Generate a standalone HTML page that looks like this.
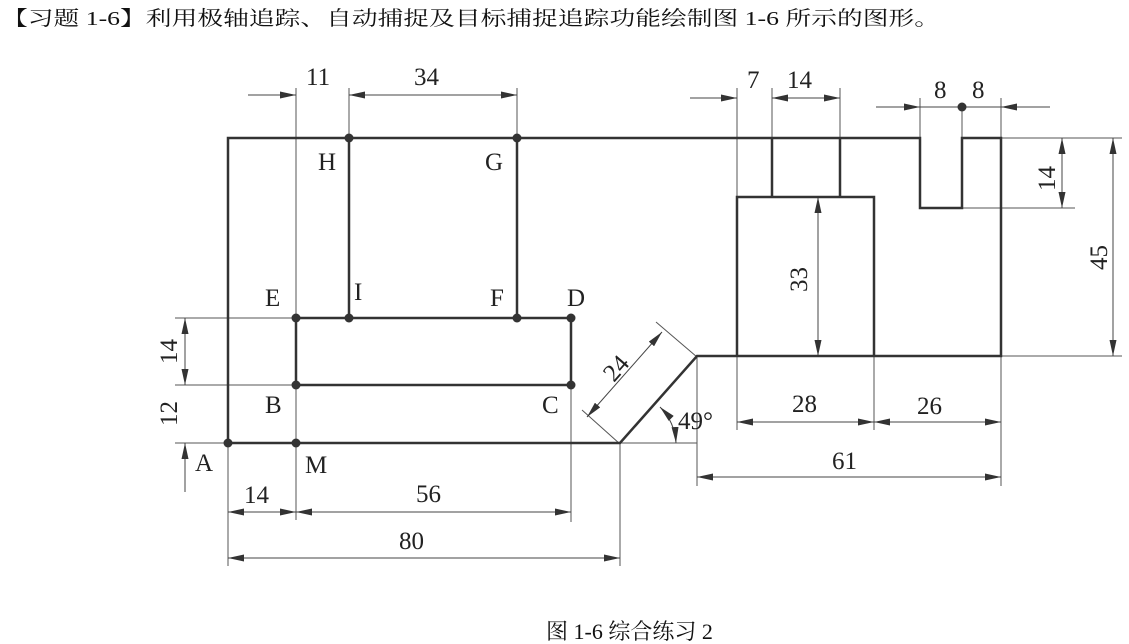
<!DOCTYPE html>
<html><head><meta charset="utf-8"><style>
html,body{margin:0;padding:0;background:#fff;width:1129px;height:644px;overflow:hidden}
svg{display:block}
text{font-family:"Liberation Serif","Noto Serif CJK SC",serif;fill:#222}
.t{font-family:"Liberation Serif","Noto Serif CJK SC","Noto Sans CJK SC",serif;fill:#111}
</style></head><body>
<svg width="1129" height="644" viewBox="0 0 1129 644" xmlns="http://www.w3.org/2000/svg">
<defs>
<marker id="a" viewBox="0 0 16 7" refX="16" refY="3.5" markerWidth="16" markerHeight="7" markerUnits="userSpaceOnUse" orient="auto-start-reverse"><path d="M0,0 L16,3.5 L0,7 z" fill="#333"/></marker>
</defs>
<text class="t" x="2" y="25" font-size="20" textLength="938" lengthAdjust="spacingAndGlyphs">【习题 1-6】利用极轴追踪、自动捕捉及目标捕捉追踪功能绘制图 1-6 所示的图形。</text>

<g stroke="#555" stroke-width="1" fill="none">
<line x1="296" y1="88" x2="296" y2="520"/>
<line x1="349" y1="88" x2="349" y2="138"/>
<line x1="517" y1="88" x2="517" y2="138"/>
<line x1="571" y1="385" x2="571" y2="522"/>
<line x1="228" y1="443" x2="228" y2="566"/>
<line x1="620" y1="443" x2="620" y2="566"/>
<line x1="175" y1="318" x2="296" y2="318"/>
<line x1="175" y1="385" x2="296" y2="385"/>
<line x1="175" y1="443" x2="228" y2="443"/>
<line x1="185" y1="445" x2="185" y2="492"/>
<line x1="620" y1="443" x2="697" y2="443"/>
<line x1="697" y1="356" x2="697" y2="486"/>
<line x1="737" y1="88" x2="737" y2="430"/>
<line x1="772" y1="88" x2="772" y2="138"/>
<line x1="840" y1="88" x2="840" y2="138"/>
<line x1="874" y1="356" x2="874" y2="430"/>
<line x1="1001" y1="356" x2="1001" y2="486"/>
<line x1="920" y1="98" x2="920" y2="138"/>
<line x1="962" y1="107" x2="962" y2="138"/>
<line x1="1001" y1="98" x2="1001" y2="138"/>
<line x1="962" y1="208" x2="1075" y2="208"/>
<line x1="1001" y1="138" x2="1122" y2="138"/>
<line x1="1001" y1="356" x2="1122" y2="356"/>
<line x1="620" y1="444" x2="582" y2="410"/>
<line x1="697" y1="357" x2="656" y2="322"/>
</g>
<g stroke="#444" stroke-width="1" fill="none">
<line x1="248" y1="95" x2="296" y2="95" marker-end="url(#a)"/>
<line x1="349" y1="95" x2="517" y2="95" marker-start="url(#a)" marker-end="url(#a)"/>
<line x1="185" y1="318" x2="185" y2="385" marker-start="url(#a)" marker-end="url(#a)"/>
<line x1="185" y1="492" x2="185" y2="443" marker-end="url(#a)"/>
<line x1="228" y1="512" x2="296" y2="512" marker-start="url(#a)" marker-end="url(#a)"/>
<line x1="296" y1="512" x2="571" y2="512" marker-start="url(#a)" marker-end="url(#a)"/>
<line x1="228" y1="558" x2="620" y2="558" marker-start="url(#a)" marker-end="url(#a)"/>
<line x1="587" y1="417" x2="662" y2="332" marker-start="url(#a)" marker-end="url(#a)"/>
<path d="M660,407 A56,56 0 0 1 676,443" marker-start="url(#a)" marker-end="url(#a)"/>
<line x1="697" y1="477" x2="1001" y2="477" marker-start="url(#a)" marker-end="url(#a)"/>
<line x1="737" y1="422" x2="874" y2="422" marker-start="url(#a)" marker-end="url(#a)"/>
<line x1="874" y1="422" x2="1001" y2="422" marker-start="url(#a)" marker-end="url(#a)"/>
<line x1="818" y1="197" x2="818" y2="356" marker-start="url(#a)" marker-end="url(#a)"/>
<line x1="690" y1="98" x2="737" y2="98" marker-end="url(#a)"/>
<line x1="772" y1="98" x2="840" y2="98" marker-start="url(#a)" marker-end="url(#a)"/>
<line x1="876" y1="107" x2="920" y2="107" marker-end="url(#a)"/>
<line x1="920" y1="107" x2="1001" y2="107"/>
<line x1="1050" y1="107" x2="1001" y2="107" marker-end="url(#a)"/>
<line x1="1062" y1="138" x2="1062" y2="208" marker-start="url(#a)" marker-end="url(#a)"/>
<line x1="1113" y1="138" x2="1113" y2="356" marker-start="url(#a)" marker-end="url(#a)"/>
</g>
<g stroke="#333" stroke-width="2.5" fill="none" stroke-linejoin="miter">
<path d="M228,443 L620,443 L697,356 L1001,356 L1001,138 L962,138 L962,208 L920,208 L920,138 L228,138 Z"/>
<path d="M349,138 L349,318 M517,138 L517,318"/>
<path d="M296,318 L571,318 L571,385 L296,385 Z"/>
<path d="M737,356 L737,197 L874,197 L874,356"/>
<path d="M772,197 L772,138 M840,197 L840,138"/>
</g>
<g fill="#333">
<circle cx="228" cy="443" r="4.5"/><circle cx="296" cy="443" r="4.5"/>
<circle cx="296" cy="318" r="4.5"/><circle cx="349" cy="318" r="4.5"/>
<circle cx="517" cy="318" r="4.5"/><circle cx="571" cy="318" r="4.5"/>
<circle cx="296" cy="385" r="4.5"/><circle cx="571" cy="385" r="4.5"/>
<circle cx="349" cy="138" r="4.5"/><circle cx="517" cy="138" r="4.5"/>
<circle cx="962" cy="107" r="4.5"/>
</g>
<g font-size="25">
<text x="306" y="85">11</text>
<text x="414" y="85">34</text>
<text x="318" y="170">H</text>
<text x="485" y="170">G</text>
<text x="265" y="306">E</text>
<text x="354" y="300">I</text>
<text x="490" y="306">F</text>
<text x="567" y="306">D</text>
<text x="265" y="413">B</text>
<text x="542" y="413">C</text>
<text x="195" y="471">A</text>
<text x="305" y="473">M</text>
<text x="244" y="503">14</text>
<text x="416" y="502">56</text>
<text x="399" y="549">80</text>
<text transform="translate(177,364) rotate(-90)">14</text>
<text transform="translate(177,426) rotate(-90)">12</text>
<text transform="translate(614,383) rotate(-49)">24</text>
<text x="678" y="429">49°</text>
<text x="832" y="469">61</text>
<text x="792" y="412">28</text>
<text x="917" y="414">26</text>
<text transform="translate(807,292) rotate(-90)">33</text>
<text transform="translate(1055,191) rotate(-90)">14</text>
<text transform="translate(1107,270) rotate(-90)">45</text>
<text x="747" y="88">7</text>
<text x="787" y="88">14</text>
<text x="934" y="98">8</text>
<text x="972" y="98">8</text>
</g>
<text class="t" x="546" y="639" font-size="22">图 1-6 综合练习 2</text>
</svg>
</body></html>
